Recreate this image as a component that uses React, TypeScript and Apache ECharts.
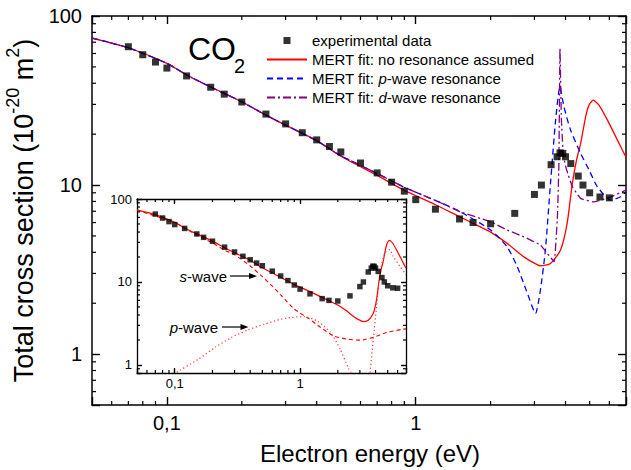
import React, { useEffect, useRef } from 'react';
import * as echarts from 'echarts';

const FONT = '"Liberation Sans", Arial, Helvetica, sans-serif';

// axis ranges
const X_RANGE = [0.05, 7];
const Y_RANGE = [0.5, 100];
const INSET_Y_RANGE = [0.8, 100];

// tick labels
const xTickValues = [0.1, 1];
const xTickLabels = ['0,1', '1'];
const yTickValues = [1, 10, 100];
const yTickLabels = ['1', '10', '100'];

// minor tick positions
const xMinorTicks = [0.06, 0.07, 0.08, 0.09, 0.2, 0.3, 0.4, 0.5, 0.6, 0.7, 0.8, 0.9, 2, 3, 4, 5, 6];
const yMinorTicks = [0.6, 0.7, 0.8, 0.9, 2, 3, 4, 5, 6, 7, 8, 9, 20, 30, 40, 50, 60, 70, 80, 90];
const insetYMinorTicks = [0.9, 2, 3, 4, 5, 6, 7, 8, 9, 20, 30, 40, 50, 60, 70, 80, 90];

// experimental data
const expEnergy = [0.07, 0.08, 0.09, 0.1, 0.12, 0.15, 0.17, 0.2, 0.25, 0.3, 0.35, 0.4, 0.45, 0.5, 0.6, 0.7, 0.8, 0.9, 1.0, 1.2, 1.5, 1.7, 2.0, 2.5, 3.0, 3.2, 3.5, 3.7, 3.8, 3.9, 4.0, 4.2, 4.5, 4.7, 5.0, 5.5, 6.0];
const expSigma = [65.8, 59.0, 53.4, 49.2, 44.2, 37.9, 34.5, 31.0, 26.3, 23.0, 20.4, 18.5, 16.9, 15.7, 13.5, 11.8, 10.4, 9.2, 8.2, 7.2, 6.3, 6.0, 5.9, 6.8, 8.8, 10.0, 13.2, 14.7, 15.5, 15.4, 14.7, 13.4, 11.3, 10.0, 9.0, 8.5, 8.4];

// MERT fit: no resonance assumed
const noResE = [0.05, 0.07, 0.1, 0.12, 0.15, 0.2, 0.25, 0.3, 0.4, 0.5, 0.7, 0.9, 1.2, 1.5, 1.8, 2.0, 2.33, 2.72, 3.0, 3.17, 3.48, 3.82, 4.06, 4.26, 4.43, 4.6, 4.82, 4.97, 5.17, 5.45, 5.89, 6.46, 7.0];
const noResS = [74.1, 64.9, 52.5, 44.8, 38.0, 31.1, 25.9, 22.6, 18.3, 14.8, 11.4, 9.3, 7.65, 6.5, 5.7, 5.27, 4.52, 3.76, 3.45, 3.33, 3.44, 4.13, 5.93, 10.2, 14.1, 17.6, 25.4, 29.7, 31.8, 29.7, 24.3, 18.5, 14.6];

// MERT fit: p-wave resonance
const pResE = [0.05, 0.07, 0.1, 0.12, 0.15, 0.2, 0.25, 0.3, 0.4, 0.5, 0.7, 0.9, 1.26, 1.51, 2.0, 2.33, 2.56, 2.81, 3.03, 3.17, 3.32, 3.48, 3.65, 3.8, 3.94, 4.19, 4.6, 4.97, 5.37, 6.07, 6.66, 7.0];
const pResS = [74.1, 64.9, 52.5, 44.8, 38.0, 31.1, 25.9, 22.6, 18.3, 14.9, 11.7, 9.7, 7.86, 6.95, 5.42, 4.31, 3.29, 2.29, 1.74, 2.39, 4.13, 10.2, 24.3, 38.2, 29.1, 21.2, 15.4, 12.3, 9.77, 8.15, 8.53, 9.12];

// MERT fit: d-wave resonance
const dResE = [0.05, 0.07, 0.1, 0.12, 0.15, 0.2, 0.25, 0.3, 0.4, 0.5, 0.7, 0.9, 1.26, 1.51, 1.82, 2.0, 2.33, 2.72, 3.17, 3.38, 3.6, 3.71, 3.76, 3.8, 3.85, 3.92, 4.0, 4.1, 4.26, 4.6, 5.17, 5.89, 7.0];
const dResS = [74.1, 64.9, 52.5, 44.8, 38.0, 31.1, 25.9, 22.6, 18.3, 14.9, 11.7, 9.7, 7.86, 6.95, 6.35, 6.07, 5.42, 4.94, 4.42, 3.94, 3.52, 6.49, 12.8, 64.4, 24.3, 15.0, 13.0, 11.5, 9.8, 8.34, 7.96, 8.34, 9.34];

// inset: partial waves (null = curve below the visible range)
const sWaveE = [0.05, 0.1, 0.15, 0.2, 0.25, 0.3, 0.4, 0.5, 0.6, 0.7, 0.9, 1.14, 1.46, 1.85, 2.37, 3.01, 3.84, 4.89, 6.62, 7.0];
const sWaveS = [73.5, 51.7, 36.8, 29.5, 24.2, 21.3, 15.6, 11.6, 8.9, 7.0, 4.7, 3.73, 2.83, 2.24, 2.05, 1.99, 2.15, 2.46, 2.70, 2.72];
const pWaveE = [0.104, 0.155, 0.21, 0.284, 0.385, 0.52, 0.705, 0.845, 1.07, 1.37, 1.75, 2.09, 2.44, 2.55, 3.0, 3.62, 3.84, 4.08, 4.34, 4.75, 5.2, 5.52, 6.24, 6.83, 7.0];
const pWaveS = [0.82, 1.18, 1.63, 2.15, 2.65, 3.10, 3.56, 3.73, 3.83, 3.39, 2.46, 1.55, 0.9, 0.81, null, 0.81, 2.05, 5.13, 12.9, 22.4, 24.5, 20.4, 15.5, 12.9, 12.3];

const legendNames = [
  'experimental data',
  'MERT fit: no resonance assumed',
  'MERT fit: p-wave resonance',
  'MERT fit: d-wave resonance',
];

const zip = (a: number[], b: (number | null)[]) => a.map((v, i) => [v, b[i] == null ? '-' : b[i]]);

const makeFormatter = (vals: number[], labels: string[]) => (v: number) => {
  const i = vals.findIndex((t) => Math.abs(t - v) / t < 1e-6);
  return i >= 0 ? labels[i] : '';
};

// minor ticks: position along the axis from api.coord, frame edges from the grid rectangle
function minorTickSeries(axisIndex: number, dir: 'x' | 'y', side: 'a' | 'b', values: number[], len: number, z: number) {
  return {
    type: 'custom',
    xAxisIndex: axisIndex,
    yAxisIndex: axisIndex,
    data: values.map((v) => (dir === 'x' ? [v, 1] : [1, v])),
    z,
    renderItem: (params: any, api: any) => {
      const cs = params.coordSys;
      const p = api.coord([api.value(0), api.value(1)]);
      let shape;
      if (dir === 'x') {
        const y0 = side === 'a' ? cs.y + cs.height : cs.y;
        const y1 = side === 'a' ? y0 - len : y0 + len;
        shape = { x1: p[0], y1: y0, x2: p[0], y2: y1 };
      } else {
        const x0 = side === 'a' ? cs.x : cs.x + cs.width;
        const x1 = side === 'a' ? x0 + len : x0 - len;
        shape = { x1: x0, y1: p[1], x2: x1, y2: p[1] };
      }
      return { type: 'line', shape, style: { stroke: '#000', lineWidth: 1.2 } };
    },
  };
}

function logAxis(o: any) {
  return {
    type: 'log',
    logBase: 10,
    gridIndex: o.gridIndex,
    min: o.range[0],
    max: o.range[1],
    position: o.position,
    axisLine: { show: true, onZero: false, lineStyle: { color: '#000', width: o.lineWidth } },
    axisTick: { show: true, inside: true, length: o.tickLen, lineStyle: { color: '#000', width: 1.4 } },
    axisLabel: o.labels
      ? { show: true, formatter: o.labels, color: '#000', fontSize: o.fontSize, fontFamily: FONT, margin: o.margin }
      : { show: false },
    splitLine: { show: false },
  };
}

export default function App() {
  const ref = useRef<HTMLDivElement>(null);
  useEffect(() => {
    if (!ref.current) return;
    const chart = echarts.init(ref.current, null, { renderer: 'svg' });
    const xFmt = makeFormatter(xTickValues, xTickLabels);
    const yFmt = makeFormatter(yTickValues, yTickLabels);
    const option: any = {
      backgroundColor: '#fff',
      animation: false,
      textStyle: { fontFamily: FONT },
      grid: [
        { left: 92, top: 16, width: 534, height: 389, containLabel: false, outerBoundsMode: 'none' },
        { left: 137, top: 199, width: 269, height: 174, containLabel: false, outerBoundsMode: 'none' },
      ],
      xAxis: [
        {
          ...logAxis({ gridIndex: 0, range: X_RANGE, position: 'bottom', labels: xFmt, fontSize: 20, margin: 8, lineWidth: 1.5, tickLen: 8 }),
          name: 'Electron energy (eV)',
          nameLocation: 'middle',
          nameGap: 36,
          nameTextStyle: { fontSize: 24, color: '#000', fontFamily: FONT, padding: [0, 0, 0, 22] },
        },
        logAxis({ gridIndex: 0, range: X_RANGE, position: 'top', labels: null, lineWidth: 1.5, tickLen: 8 }),
        logAxis({ gridIndex: 1, range: X_RANGE, position: 'bottom', labels: xFmt, fontSize: 13, margin: 4, lineWidth: 1.3, tickLen: 5 }),
        logAxis({ gridIndex: 1, range: X_RANGE, position: 'top', labels: null, lineWidth: 1.3, tickLen: 5 }),
      ],
      yAxis: [
        {
          ...logAxis({ gridIndex: 0, range: Y_RANGE, position: 'left', labels: yFmt, fontSize: 20, margin: 10, lineWidth: 1.5, tickLen: 8 }),
          name: '{a|Total cross section (10}{s|-20}{a| m}{s|2}{a|)}',
          nameLocation: 'middle',
          nameRotate: 90,
          nameGap: 48,
          nameTextStyle: {
            color: '#000',
            fontFamily: FONT,
            fontSize: 27,
            rich: {
              a: { fontSize: 27, fontFamily: FONT, color: '#000', lineHeight: 40 },
              s: { fontSize: 18, fontFamily: FONT, color: '#000', verticalAlign: 'top', lineHeight: 18 },
            },
          },
        },
        logAxis({ gridIndex: 0, range: Y_RANGE, position: 'right', labels: null, lineWidth: 1.5, tickLen: 8 }),
        logAxis({ gridIndex: 1, range: INSET_Y_RANGE, position: 'left', labels: yFmt, fontSize: 13, margin: 5, lineWidth: 1.3, tickLen: 5 }),
        logAxis({ gridIndex: 1, range: INSET_Y_RANGE, position: 'right', labels: null, lineWidth: 1.3, tickLen: 5 }),
      ],
      legend: {
        orient: 'vertical',
        left: 266,
        top: 33,
        itemWidth: 40,
        itemHeight: 14,
        itemGap: 4,
        padding: 0,
        textStyle: {
          fontSize: 15,
          fontFamily: FONT,
          color: '#000',
          rich: { i: { fontSize: 15, fontFamily: FONT, color: '#000', fontStyle: 'italic' } },
        },
        formatter: (name: string) => name.replace(/: ([pd])-wave/, ': {i|$1}-wave'),
        data: [
          { name: legendNames[0], icon: 'path://M0,0M40,14M16.5,3.5h7v7h-7z' },
          { name: legendNames[1], itemStyle: { opacity: 0 } },
          { name: legendNames[2], itemStyle: { opacity: 0 } },
          { name: legendNames[3], itemStyle: { opacity: 0 } },
        ],
      },
      series: [
        {
          name: legendNames[1], type: 'line', xAxisIndex: 0, yAxisIndex: 0, data: zip(noResE, noResS),
          symbol: 'none', smooth: 0.2, lineStyle: { color: '#ff0000', width: 1.3 }, itemStyle: { color: '#ff0000' }, z: 2,
        },
        {
          name: legendNames[2], type: 'line', xAxisIndex: 0, yAxisIndex: 0, data: zip(pResE, pResS),
          symbol: 'none', smooth: 0.2, lineStyle: { color: '#0000ff', width: 1.3, type: [6, 4] }, itemStyle: { color: '#0000ff' }, z: 2,
        },
        {
          name: legendNames[3], type: 'line', xAxisIndex: 0, yAxisIndex: 0, data: zip(dResE, dResS),
          symbol: 'none', smooth: 0.1, lineStyle: { color: '#800080', width: 1.3, type: [8, 3, 2, 3] }, itemStyle: { color: '#800080' }, z: 2,
        },
        {
          name: legendNames[0], type: 'scatter', xAxisIndex: 0, yAxisIndex: 0, data: zip(expEnergy, expSigma),
          symbol: 'rect', symbolSize: 7, itemStyle: { color: '#000' }, z: 3,
        },
        minorTickSeries(0, 'x', 'a', xMinorTicks, 4, 4),
        minorTickSeries(0, 'x', 'b', xMinorTicks, 4, 4),
        minorTickSeries(0, 'y', 'a', yMinorTicks, 4, 4),
        minorTickSeries(0, 'y', 'b', yMinorTicks, 4, 4),
        // inset
        {
          name: 'inset total', type: 'line', xAxisIndex: 2, yAxisIndex: 2, data: zip(noResE, noResS),
          symbol: 'none', smooth: 0.2, lineStyle: { color: '#ff0000', width: 1.2 }, z: 5,
        },
        {
          name: 's-wave', type: 'line', xAxisIndex: 2, yAxisIndex: 2, data: zip(sWaveE, sWaveS),
          symbol: 'none', smooth: 0.2, lineStyle: { color: '#ff0000', width: 1.1, type: [4, 3] }, z: 5,
        },
        {
          name: 'p-wave', type: 'line', xAxisIndex: 2, yAxisIndex: 2, data: zip(pWaveE, pWaveS),
          symbol: 'none', smooth: 0.2, connectNulls: false, lineStyle: { color: '#ff3030', width: 1.2, type: [1.2, 2.6] }, z: 5,
        },
        {
          name: 'inset data', type: 'scatter', xAxisIndex: 2, yAxisIndex: 2, data: zip(expEnergy, expSigma),
          symbol: 'rect', symbolSize: 5.5, itemStyle: { color: '#000' }, z: 6,
        },
        minorTickSeries(2, 'x', 'a', xMinorTicks, 3, 6),
        minorTickSeries(2, 'x', 'b', xMinorTicks, 3, 6),
        minorTickSeries(2, 'y', 'a', insetYMinorTicks, 3, 6),
        minorTickSeries(2, 'y', 'b', insetYMinorTicks, 3, 6),
      ],
      graphic: [
        { type: 'text', x: 188, y: 49, z: 10, style: { text: 'CO', fontSize: 32, fontFamily: FONT, fill: '#000', align: 'left', verticalAlign: 'middle' } },
        { type: 'text', x: 234, y: 66, z: 10, style: { text: '2', fontSize: 20, fontFamily: FONT, fill: '#000', align: 'left', verticalAlign: 'middle' } },
        {
          type: 'text', x: 227, y: 276, z: 10,
          style: {
            text: '{i|s}-wave', fontSize: 15, fontFamily: FONT, fill: '#000', align: 'right', verticalAlign: 'middle',
            rich: { i: { fontSize: 15, fontFamily: FONT, fill: '#000', fontStyle: 'italic' } },
          },
        },
        { type: 'line', z: 10, shape: { x1: 230, y1: 276, x2: 250, y2: 276 }, style: { stroke: '#000', lineWidth: 1.2 } },
        { type: 'polygon', z: 10, shape: { points: [[257, 276], [249, 273], [249, 279]] }, style: { fill: '#000' } },
        {
          type: 'text', x: 218, y: 327, z: 10,
          style: {
            text: '{i|p}-wave', fontSize: 15, fontFamily: FONT, fill: '#000', align: 'right', verticalAlign: 'middle',
            rich: { i: { fontSize: 15, fontFamily: FONT, fill: '#000', fontStyle: 'italic' } },
          },
        },
        { type: 'line', z: 10, shape: { x1: 222, y1: 327, x2: 242, y2: 327 }, style: { stroke: '#000', lineWidth: 1.2 } },
        { type: 'polygon', z: 10, shape: { points: [[248.5, 327], [240.5, 324], [240.5, 330]] }, style: { fill: '#000' } },
      ],
    };
    chart.setOption(option);
    return () => chart.dispose();
  }, []);
  return <div ref={ref} style={{ position: 'absolute', left: 0, top: 0, width: 631, height: 470 }} />;
}
